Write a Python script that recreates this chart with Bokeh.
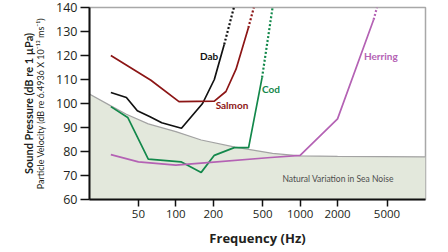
from bokeh.plotting import figure
from bokeh.models import FixedTicker, LinearAxis, Range1d
from bokeh.core.properties import value
from bokeh.embed import file_html
from bokeh.resources import INLINE

# ---- data ----
noise_freq = [20, 30, 40, 60, 100, 160, 300, 600, 1000, 2000, 10200]
noise_db = [104, 99, 95.5, 91.5, 88.3, 84.8, 81.8, 79.2, 78.2, 78.0, 77.8]

dab_freq = [30, 40, 49, 62, 77, 111, 164, 204, 245]
dab_db = [104.6, 102.5, 97, 94.5, 92, 89.7, 100, 110, 124.6]
dab_ext_freq = [245, 293]
dab_ext_db = [124.6, 140]

salmon_freq = [30, 63, 106, 204, 253, 305, 383]
salmon_db = [120, 109.7, 100.8, 101, 105, 114.3, 131.5]
salmon_ext_freq = [383, 424]
salmon_ext_db = [131.5, 140]

cod_freq = [30, 41, 60, 110, 160, 204, 295, 385, 494]
cod_db = [98.7, 94.2, 76.8, 75.7, 71.3, 78.4, 81.6, 81.6, 110.8]
cod_ext_freq = [494, 600]
cod_ext_db = [110.8, 140]

herring_freq = [30, 50, 100, 180, 580, 1000, 2000, 3900]
herring_db = [78.7, 75.7, 74.3, 75.4, 77.5, 78.4, 93.6, 134.9]
herring_ext_freq = [3900, 4150]
herring_ext_db = [134.9, 140]

species = ["Dab", "Salmon", "Cod", "Herring"]
species_colors = ["#111111", "#8c1515", "#13884b", "#b462b4"]
label_freq = [185, 283, 583, 4460]
label_db = [120, 99.5, 106, 120]

noise_label = ["Natural Variation in Sea Noise"]
noise_label_freq = [2020]
noise_label_db = [68.5]

x_ticks = [50, 100, 200, 500, 1000, 2000, 5000]
x_tick_labels = ["50", "100", "200", "500", "1000", "2000", "5000"]
y_ticks = [60, 70, 80, 90, 100, 110, 120, 130, 140]

x_title = "Frequency (Hz)"
y_title_1 = "Sound Pressure (dB re 1 \u00b5Pa)"
y_title_2 = "Particle Velocity (dB re 6.4936 X 10\u207b\u00b9\u00b3 ms\u207b\u00b9)"

NARROW = "Lato"
MAIN = "Open Sans"
TXT = "#231f20"

p = figure(width=440, height=250, x_axis_type="log",
           x_range=Range1d(20.2, 10200), y_range=Range1d(60, 140),
           output_backend="svg", toolbar_location=None,
           min_border_left=89, min_border_right=15, min_border_top=7,
           min_border_bottom=51)
p.xgrid.visible = False
p.ygrid.visible = False
p.outline_line_color = "#a8a8a8"
p.outline_line_width = 1.5
p.background_fill_color = "white"

# noise region
p.varea(x=noise_freq, y1=[60] * len(noise_freq), y2=noise_db, fill_color="#e3e8dc")
p.line(noise_freq, noise_db, line_color="#a3a3a3", line_width=1.2)

series = [
    (dab_freq, dab_db, dab_ext_freq, dab_ext_db),
    (salmon_freq, salmon_db, salmon_ext_freq, salmon_ext_db),
    (cod_freq, cod_db, cod_ext_freq, cod_ext_db),
    (herring_freq, herring_db, herring_ext_freq, herring_ext_db),
]
for (fx, fy, ex, ey), col in zip(series, species_colors):
    p.line(fx, fy, line_color=col, line_width=1.7)
    p.line(ex, ey, line_color=col, line_width=2.2, line_dash="2 2")

for name, col, lx, ly in zip(species, species_colors, label_freq, label_db):
    p.text(x=[lx], y=[ly], text=[name], text_color=col, text_font=value(NARROW),
           text_font_size="10px", text_font_style="bold",
           text_align="center", text_baseline="middle")

p.text(x=noise_label_freq, y=noise_label_db, text=noise_label, text_color="#4d4d4d",
       text_font=value(NARROW), text_font_size="8.5px",
       text_align="center", text_baseline="middle")

# axes
xa = p.xaxis[0]
xa.ticker = FixedTicker(ticks=x_ticks)
xa.major_label_overrides = {t: l for t, l in zip(x_ticks, x_tick_labels)}
xa.minor_tick_line_color = None
xa.major_tick_out = 7
xa.major_tick_in = 0
xa.major_label_standoff = 3
xa.axis_line_width = 2
xa.axis_line_color = "#111111"
xa.major_tick_line_width = 1.5
xa.major_tick_line_color = "#111111"
xa.major_label_text_font = MAIN
xa.major_label_text_font_size = "11.5px"
xa.major_label_text_color = TXT
xa.axis_label = x_title
xa.axis_label_text_font = MAIN
xa.axis_label_text_font_size = "13px"
xa.axis_label_text_font_style = "bold"
xa.axis_label_text_color = TXT
xa.axis_label_standoff = 8

ya = p.yaxis[0]
ya.ticker = FixedTicker(ticks=y_ticks)
ya.minor_tick_line_color = None
ya.major_tick_out = 9
ya.major_tick_in = 0
ya.major_label_standoff = 3
ya.axis_line_width = 2
ya.axis_line_color = "#111111"
ya.major_tick_line_width = 1.5
ya.major_tick_line_color = "#111111"
ya.major_label_text_font = MAIN
ya.major_label_text_font_size = "12.5px"
ya.major_label_text_color = TXT
ya.axis_label = y_title_2
ya.axis_label_text_font = NARROW
ya.axis_label_text_font_size = "9px"
ya.axis_label_text_font_style = "normal"
ya.axis_label_text_color = TXT
ya.axis_label_standoff = 7

ya2 = LinearAxis(ticker=FixedTicker(ticks=[]), axis_line_color=None,
                 major_tick_line_color=None, minor_tick_line_color=None,
                 major_label_text_font_size="0px",
                 axis_label=y_title_1,
                 axis_label_text_font=NARROW, axis_label_text_font_size="11px",
                 axis_label_text_font_style="bold", axis_label_text_color=TXT,
                 axis_label_standoff=-2)
p.add_layout(ya2, "left")

open("out.html", "w").write(file_html(p, INLINE))
